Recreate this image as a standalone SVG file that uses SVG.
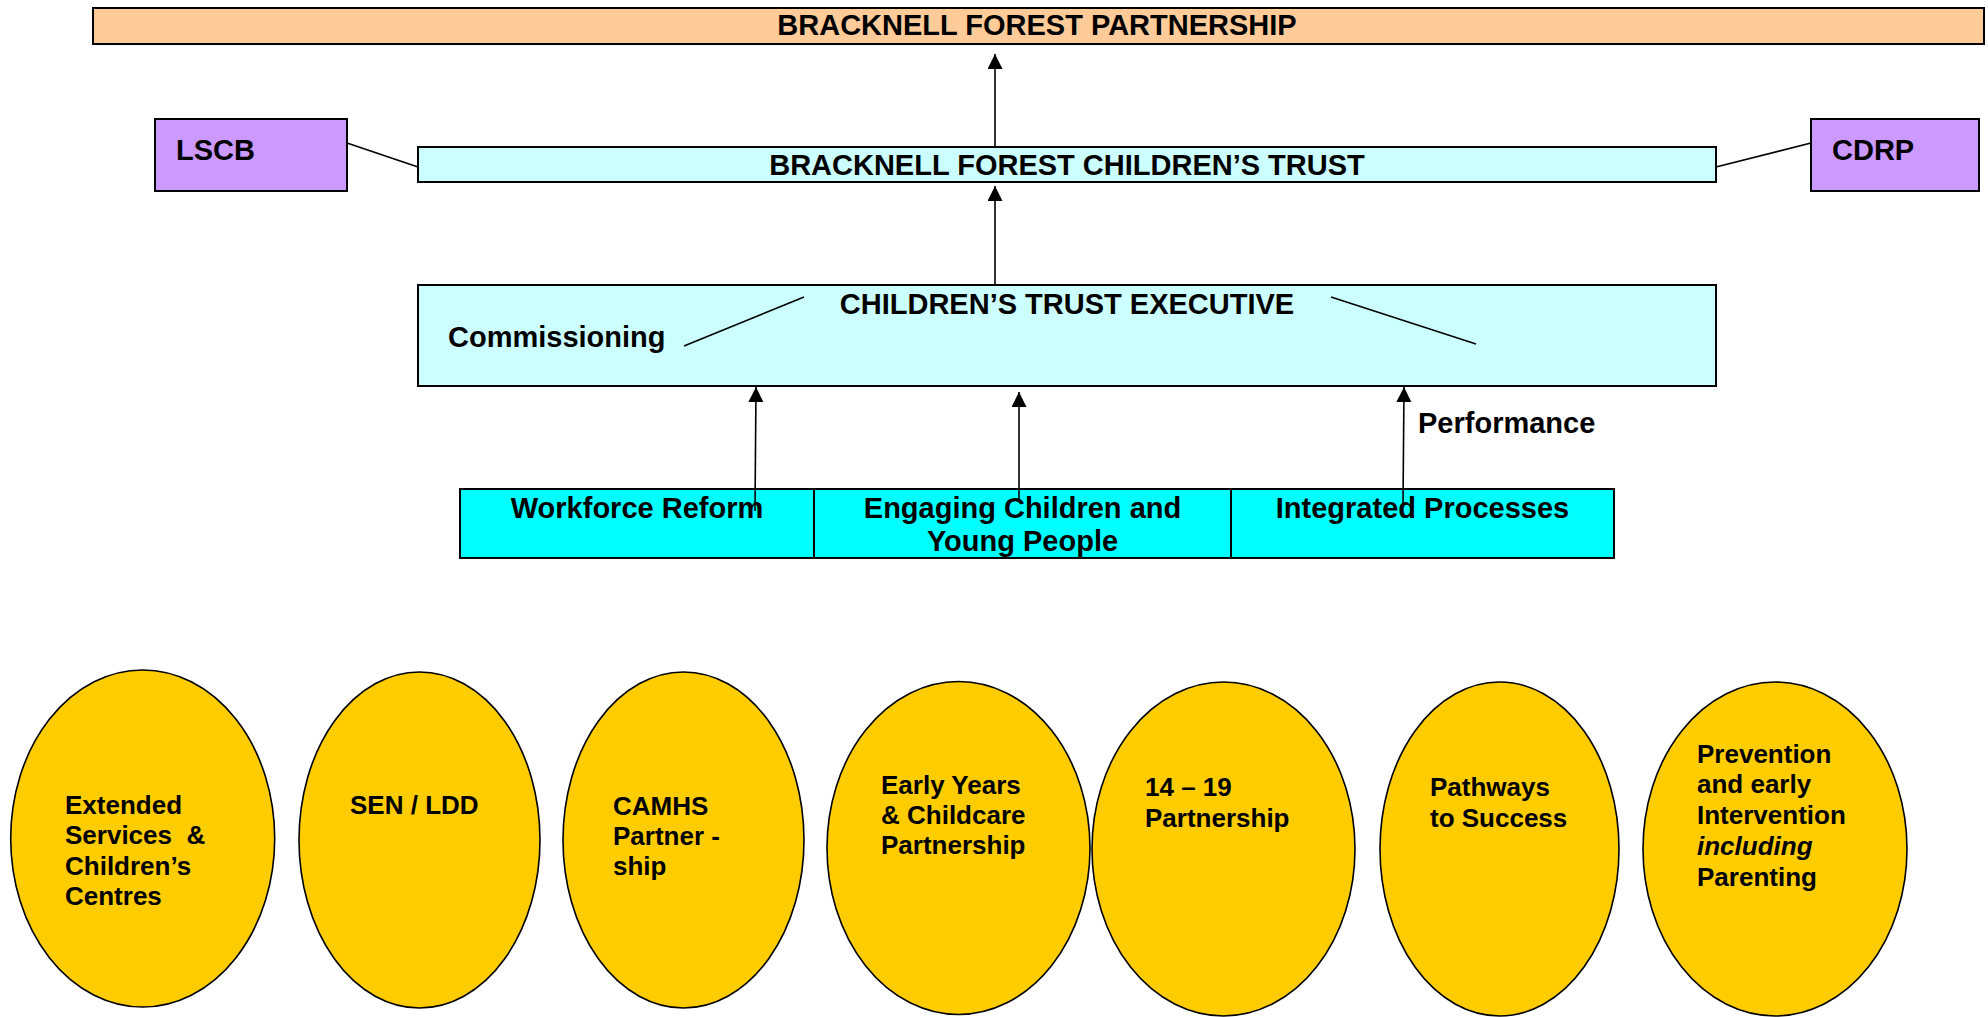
<svg xmlns="http://www.w3.org/2000/svg" width="1988" height="1017" viewBox="0 0 1988 1017">
<style>
  text { font-family: "Liberation Sans", Arial, sans-serif; font-weight: bold; fill: #000; }
  .t29 { font-size: 29px; }
  .t26 { font-size: 26px; }
  .mid { text-anchor: middle; }
  .box { stroke: #000; stroke-width: 2; }
  .peach { fill: #FFCC99; }
  .purple { fill: #CC99FF; }
  .pale { fill: #CCFFFF; }
  .cyan { fill: #00FFFF; }
  .oval { fill: #FFCC00; stroke: #000; stroke-width: 1.6; }
  .conn { stroke: #000; stroke-width: 1.6; fill: none; }
  .arrow { marker-end: url(#ah); }
</style>
<defs>
  <marker id="ah" markerUnits="userSpaceOnUse" markerWidth="16" markerHeight="16" refX="15" refY="7.5" orient="auto">
    <path d="M0,0 L15,7.5 L0,15 z" fill="#000"/>
  </marker>
</defs>
<rect width="1988" height="1017" fill="#fff"/>

<g id="partnership">
  <rect class="box peach" x="93" y="8" width="1891" height="36"/>
  <text class="t29 mid" x="1037" y="35">BRACKNELL FOREST PARTNERSHIP</text>
</g>

<g id="lscb">
  <rect class="box purple" x="155" y="119" width="192" height="72"/>
  <text class="t29" x="176" y="160">LSCB</text>
</g>

<g id="cdrp">
  <rect class="box purple" x="1811" y="119" width="168" height="72"/>
  <text class="t29" x="1832" y="160">CDRP</text>
</g>

<g id="childrens-trust">
  <rect class="box pale" x="418" y="147" width="1298" height="35"/>
  <text class="t29 mid" x="1067" y="175">BRACKNELL FOREST CHILDREN’S TRUST</text>
</g>

<g id="executive">
  <rect class="box pale" x="418" y="285" width="1298" height="101"/>
  <text class="t29 mid" x="1067" y="314">CHILDREN’S TRUST EXECUTIVE</text>
  <text class="t29" x="448" y="347">Commissioning</text>
  <line class="conn" x1="684" y1="346" x2="804" y2="297"/>
  <line class="conn" x1="1331" y1="297" x2="1476" y2="344"/>
</g>

<g id="workforce-reform">
  <rect class="box cyan" x="460" y="489" width="354" height="69"/>
  <text class="t29 mid" x="637" y="518">Workforce Reform</text>
</g>
<g id="engaging">
  <rect class="box cyan" x="814" y="489" width="417" height="69"/>
  <text class="t29 mid" x="1022.5" y="518">Engaging Children and</text>
  <text class="t29 mid" x="1022.5" y="551">Young People</text>
</g>
<g id="integrated">
  <rect class="box cyan" x="1231" y="489" width="383" height="69"/>
  <text class="t29 mid" x="1422.5" y="518">Integrated Processes</text>
</g>

<g id="connectors">
  <line class="conn arrow" x1="995" y1="147" x2="995" y2="54"/>
  <line class="conn arrow" x1="995" y1="284" x2="995" y2="186"/>
  <line class="conn" x1="347" y1="143" x2="418" y2="167"/>
  <line class="conn" x1="1716" y1="167" x2="1811" y2="143"/>
  <line class="conn arrow" x1="755" y1="511" x2="756" y2="387"/>
  <line class="conn arrow" x1="1019" y1="499" x2="1019" y2="392"/>
  <line class="conn arrow" x1="1403" y1="505" x2="1404" y2="387"/>
  <text class="t29" x="1418" y="433">Performance</text>
</g>

<g id="extended-services">
  <ellipse class="oval" cx="142.7" cy="838.5" rx="132" ry="168.5"/>
  <text class="t26" x="65" y="814">Extended</text>
  <text class="t26" x="65" y="844" style="white-space:pre">Services  &amp;</text>
  <text class="t26" x="65" y="875">Children’s</text>
  <text class="t26" x="65" y="905">Centres</text>
</g>
<g id="sen-ldd">
  <ellipse class="oval" cx="419.5" cy="840" rx="120.5" ry="168"/>
  <text class="t26" x="350" y="814">SEN / LDD</text>
</g>
<g id="camhs">
  <ellipse class="oval" cx="683.5" cy="840" rx="120.5" ry="168"/>
  <text class="t26" x="613" y="815">CAMHS</text>
  <text class="t26" x="613" y="845">Partner -</text>
  <text class="t26" x="613" y="875">ship</text>
</g>
<g id="early-years">
  <ellipse class="oval" cx="958.5" cy="848" rx="131.5" ry="166.5"/>
  <text class="t26" x="881" y="794">Early Years</text>
  <text class="t26" x="881" y="824">&amp; Childcare</text>
  <text class="t26" x="881" y="854">Partnership</text>
</g>
<g id="fourteen-nineteen">
  <ellipse class="oval" cx="1223.5" cy="849" rx="131.5" ry="167"/>
  <text class="t26" x="1145" y="796">14 – 19</text>
  <text class="t26" x="1145" y="827">Partnership</text>
</g>
<g id="pathways">
  <ellipse class="oval" cx="1499.5" cy="849" rx="119.5" ry="167"/>
  <text class="t26" x="1430" y="796">Pathways</text>
  <text class="t26" x="1430" y="827">to Success</text>
</g>
<g id="prevention">
  <ellipse class="oval" cx="1775" cy="849" rx="132" ry="167"/>
  <text class="t26" x="1697" y="763">Prevention</text>
  <text class="t26" x="1697" y="793">and early</text>
  <text class="t26" x="1697" y="824">Intervention</text>
  <text class="t26" x="1697" y="855" font-style="italic">including</text>
  <text class="t26" x="1697" y="886">Parenting</text>
</g>
</svg>
